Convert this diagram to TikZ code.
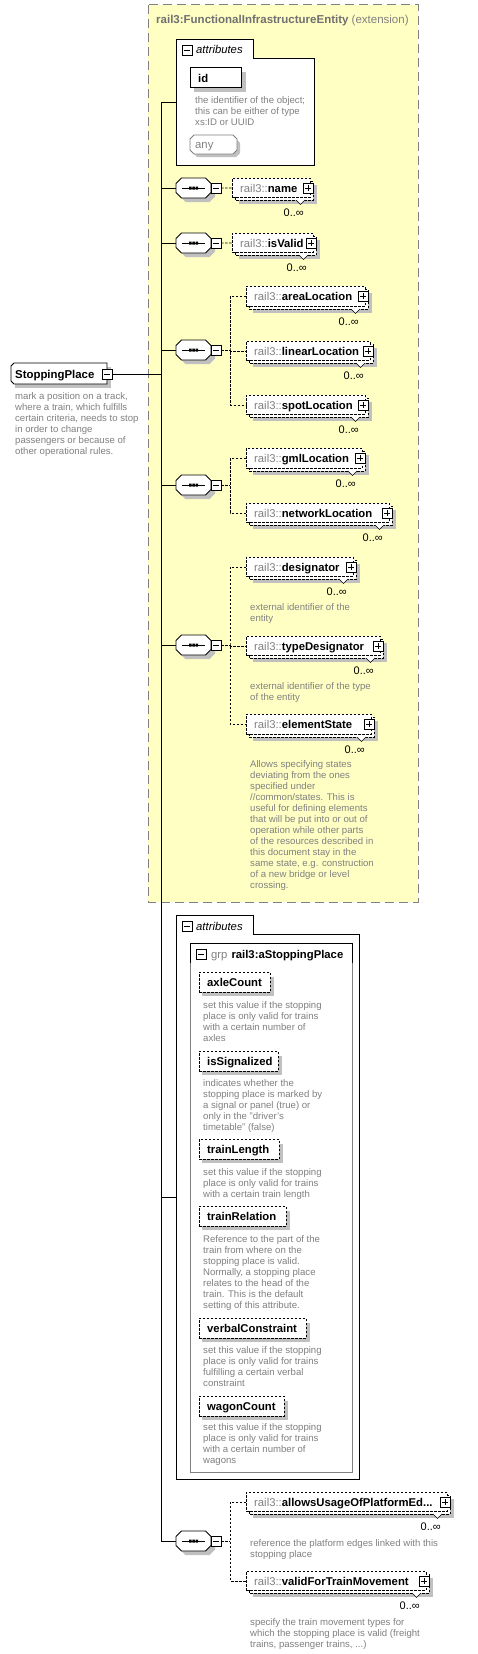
\documentclass[tikz,border=0pt]{standalone}
\usepackage{fontspec}
\setmainfont{Liberation Sans}
\usetikzlibrary{calc}
\definecolor{yel}{RGB}{255,255,196}
\definecolor{shad}{RGB}{192,192,192}
\definecolor{txtgray}{RGB}{128,128,128}
\definecolor{ttlgray}{RGB}{112,112,112}
\definecolor{boxgray}{RGB}{128,128,128}
\tikzset{
 conn/.style={line width=1pt, black},
 dconn/.style={line width=0.8pt, black, dash pattern=on 2.5pt off 1.5pt},
 ebox/.style={draw=black, line width=0.8pt, dash pattern=on 2.5pt off 1.5pt, fill=white},
 sbox/.style={draw=black, line width=0.8pt, fill=white},
 lbl/.style={inner sep=0, anchor=base west, font=\fontsize{11.3}{13}\selectfont},
 desc/.style={inner sep=0, anchor=base west, align=left, text=txtgray, font=\fontsize{9.6}{11}\selectfont},
 mult/.style={inner sep=0, anchor=base east, font=\fontsize{11}{13}\selectfont},
}
\newcommand\minusbox[2]{%
 \draw[line width=0.8pt, fill=white] (#1,#2-5) rectangle (#1+10,#2+5);
 \draw[line width=0.8pt] (#1+2,#2) -- (#1+8,#2);
}
\newcommand\plusbox[2]{%
 \draw[line width=0.8pt, fill=white] (#1,#2-5) rectangle (#1+10,#2+5);
 \draw[line width=0.8pt] (#1+2,#2) -- (#1+8,#2) (#1+5,#2-3) -- (#1+5,#2+3);
}
% reference element: name x1 y1 x2 y2 label
\newcommand\refel[6]{%
 \fill[shad] (#2+7,#3+7) rectangle (#4+4,#5+4);
 \draw[ebox] (#2+3,#3+3) rectangle (#4,#5);
 \node[ebox, inner sep=0, minimum width=#4-#2-3, minimum height=#5-#3-3, anchor=north west] (#1) at (#2,#3) {};
 \node[lbl] at (#2+8,#3+14) {\textcolor{txtgray}{rail3::}\textbf{#6}};
 \plusbox{#4-10}{#3+10}
 \draw[line width=0.6pt, fill=white] (#4-17,#5) -- (#4-12.5,#5+4.5) -- (#4-8,#5);
 \node[mult] at (#4-9,#5+16) {0..∞};
}
% attribute: name x1 y1 x2 y2 label
\newcommand\attel[6]{%
 \fill[shad] (#2+3,#3+5) rectangle (#4+4,#5+4);
 \node[ebox, inner sep=0, minimum width=#4-#2, minimum height=#5-#3, anchor=north west] (#1) at (#2,#3) {};
 \node[lbl] at (#2+8,#3+14) {\textbf{#6}};
}
% sequence: name yc
\newcommand\seqnode[2]{%
 \fill[shad] (185.5,#2-6) -- (209.5,#2-6) -- (215,#2-0.5) -- (215,#2+8.5) -- (209.5,#2+14) -- (185.5,#2+14) -- (180,#2+8.5) -- (180,#2-0.5) -- cycle;
 \draw[line width=0.8pt, fill=white] (181.5,#2-10) -- (205.5,#2-10) -- (211,#2-4.5) -- (211,#2+4.5) -- (205.5,#2+10) -- (181.5,#2+10) -- (176,#2+4.5) -- (176,#2-4.5) -- cycle;
 \node[inner sep=0, minimum width=35, minimum height=20] (#1) at (193.5,#2) {};
 \draw[line width=0.8pt] (182,#2) -- (205,#2);
 \fill (189,#2-1.5) rectangle (191.5,#2+1.5) (192.3,#2-1.5) rectangle (194.8,#2+1.5) (195.6,#2-1.5) rectangle (198.1,#2+1.5);
 \minusbox{211}{#2}
 \coordinate (#1-m) at (221,#2);
}
\begin{document}
\begin{tikzpicture}[x=1pt,y=-1pt]
\path[use as bounding box] (0,0) rectangle (478,1654);
\fill[white] (0,0) rectangle (478,1654);

% yellow extension box
\draw[fill=yel, draw=boxgray, line width=1pt, dash pattern=on 9pt off 5pt] (148,5) rectangle (418,902);
\node[inner sep=0, anchor=base west, font=\fontsize{11.5}{13}\selectfont] (title) at (156,24) {\textcolor{ttlgray}{\textbf{rail3:FunctionalInfrastructureEntity}} \textcolor{txtgray}{(extension)}};

% attributes box 1
\draw[sbox] (176,39) -- (253,39) -- (253,58) -- (314,58) -- (314,165) -- (176,165) -- cycle;
\minusbox{182}{50}
\node[lbl] (attr1) at (196,54) {\textit{attributes}};
\fill[shad] (194,72) rectangle (246,92);
\node[sbox, inner sep=0, minimum width=51, minimum height=20, anchor=north west] (id) at (190,67) {};
\node[lbl] at (198,82) {\textbf{id}};
\node[desc] (d-id) at (195,125.3) {the identifier of the object;\\this can be either of type\\xs:ID or UUID};
\fill[shad] (197,139) -- (236,139) -- (240,143) -- (240,153) -- (236,157) -- (197,157) -- (193,153) -- (193,143) -- cycle;
\draw[line width=0.8pt, draw=boxgray, fill=white] (194,135) -- (233,135) -- (237,139) -- (237,150) -- (233,154) -- (194,154) -- (190,150) -- (190,139) -- cycle;
\node[lbl, text=txtgray] (any) at (195,148.5) {any};

% StoppingPlace
\fill[shad] (15,367) rectangle (111,388);
\draw[sbox] (14,363) -- (107,363) -- (107,384) -- (14,384) -- (11,381) -- (11,366) -- cycle;
\node[inner sep=0, minimum width=96, minimum height=21, anchor=north west] (sp) at (11,363) {};
\node[lbl, font=\fontsize{11.4}{13}\selectfont] at (15,378) {\textbf{StoppingPlace}};
\minusbox{102}{374}
\coordinate (sp-m) at (112,374);
\node[desc] (d-sp) at (15,454.3) {mark a position on a track,\\where a train, which fulfills\\certain criteria, needs to stop\\in order to change\\passengers or because of\\other operational rules.};

% junctions on main line
\coordinate (jtop) at (161,102);
\coordinate (a1in) at (176,102);
\coordinate (jsp) at (161,374);
\coordinate (j1) at (161,188);
\coordinate (j2) at (161,243);
\coordinate (j3) at (161,350);
\coordinate (j4) at (161,485);
\coordinate (j5) at (161,645);
\coordinate (ja2) at (161,1197);
\coordinate (a2in) at (176,1197);
\coordinate (jbot) at (161,1541);

% sequences
\seqnode{s1}{188}
\seqnode{s2}{243}
\seqnode{s3}{350}
\seqnode{s4}{485}
\seqnode{s5}{645}
\seqnode{s6}{1541}

% elements
\refel{e-name}{232}{178}{313}{200}{name}
\refel{e-valid}{232}{233}{316}{255}{isValid}
\refel{e-area}{246}{286}{368}{309}{areaLocation}
\refel{e-linear}{246}{341}{373}{363}{linearLocation}
\refel{e-spot}{246}{395}{368}{417}{spotLocation}
\refel{e-gml}{246}{448}{365}{471}{gmlLocation}
\refel{e-net}{246}{503}{392}{525}{networkLocation}
\refel{e-des}{246}{557}{356}{579}{designator}
\node[desc] (d-des) at (250,621.3) {external identifier of the\\entity};
\refel{e-type}{246}{636}{383}{658}{typeDesignator}
\node[desc] (d-type) at (250,700.3) {external identifier of the type\\of the entity};
\refel{e-state}{246}{714}{374}{737}{elementState}
\node[desc] (d-state) at (250,888.3) {Allows specifying states\\deviating from the ones\\specified under\\//common/states. This is\\useful for defining elements\\that will be put into or out of\\operation while other parts\\of the resources described in\\this document stay in the\\same state, e.g. construction\\of a new bridge or level\\crossing.};

% attributes box 2
\draw[sbox] (176,915) -- (253,915) -- (253,934) -- (359,934) -- (359,1479) -- (176,1479) -- cycle;
\minusbox{182}{926}
\node[lbl] (attr2) at (196,930) {\textit{attributes}};
\draw[line width=0.8pt, draw=boxgray] (190,943) rectangle (352,1472);
\draw[line width=0.8pt] (190,963) -- (190,943) -- (352,943) -- (352,963);
\minusbox{196}{954}
\node[lbl] (grp) at (211,958) {\textcolor{txtgray}{grp}\hspace{4pt}\textbf{rail3:aStoppingPlace}};

\attel{a-axle}{199}{972}{270}{992}{axleCount}
\node[desc] at (203,1041.3) {set this value if the stopping\\place is only valid for trains\\with a certain number of\\axles};
\attel{a-sig}{199}{1051}{278}{1071}{isSignalized}
\node[desc] at (203,1130.3) {indicates whether the\\stopping place is marked by\\a signal or panel (true) or\\only in the "driver's\\timetable" (false)};
\attel{a-len}{199}{1139}{279}{1159}{trainLength}
\node[desc] at (203,1197.3) {set this value if the stopping\\place is only valid for trains\\with a certain train length};
\attel{a-rel}{199}{1206}{286}{1226}{trainRelation}
\node[desc] at (203,1308.3) {Reference to the part of the\\train from where on the\\stopping place is valid.\\Normally, a stopping place\\relates to the head of the\\train. This is the default\\setting of this attribute.};
\attel{a-verb}{199}{1318}{306}{1338}{verbalConstraint}
\node[desc] at (203,1386.3) {set this value if the stopping\\place is only valid for trains\\fulfilling a certain verbal\\constraint};
\attel{a-wag}{199}{1396}{284}{1416}{wagonCount}
\node[desc] at (203,1463.3) {set this value if the stopping\\place is only valid for trains\\with a certain number of\\wagons};

% last sequence elements
\refel{e-plat}{246}{1492}{450}{1514}{allowsUsageOfPlatformEd...}
\node[desc] (d-plat) at (250,1557.3) {reference the platform edges linked with this\\stopping place};
\refel{e-move}{246}{1571}{429}{1593}{validForTrainMovement}
\node[desc] (d-move) at (250,1647.3) {specify the train movement types for\\which the stopping place is valid (freight\\trains, passenger trains, ...)};

% connectors
\draw[conn] (jtop) -- (jbot);
\draw[conn] (jtop) -- (a1in);
\draw[conn] (sp-m) -- (jsp);
\draw[conn] (j1) -- (s1.west);
\draw[conn] (j2) -- (s2.west);
\draw[conn] (j3) -- (s3.west);
\draw[conn] (j4) -- (s4.west);
\draw[conn] (j5) -- (s5.west);
\draw[conn] (ja2) -- (a2in);
\draw[conn] (jbot) -- (s6.west);

\coordinate (v3) at (230,350);
\coordinate (v4) at (230,485);
\coordinate (v5) at (230,645);
\coordinate (v6) at (230,1541);
\draw[dconn] (s1-m) -- (e-name.west);
\draw[dconn] (s2-m) -- (e-valid.west);
\draw[dconn] (s3-m) -- (v3);
\draw[dconn] (e-area.west) -| (v3) |- (e-spot.west);
\draw[dconn] (v3) |- (e-linear.west);
\draw[dconn] (s4-m) -- (v4);
\draw[dconn] (e-gml.west) -| (v4) |- (e-net.west);
\draw[dconn] (s5-m) -- (v5);
\draw[dconn] (e-des.west) -| (v5) |- (e-state.west);
\draw[dconn] (v5) |- (e-type.west);
\draw[dconn] (s6-m) -- (v6);
\draw[dconn] (e-plat.west) -| (v6) |- (e-move.west);
\end{tikzpicture}
\end{document}
